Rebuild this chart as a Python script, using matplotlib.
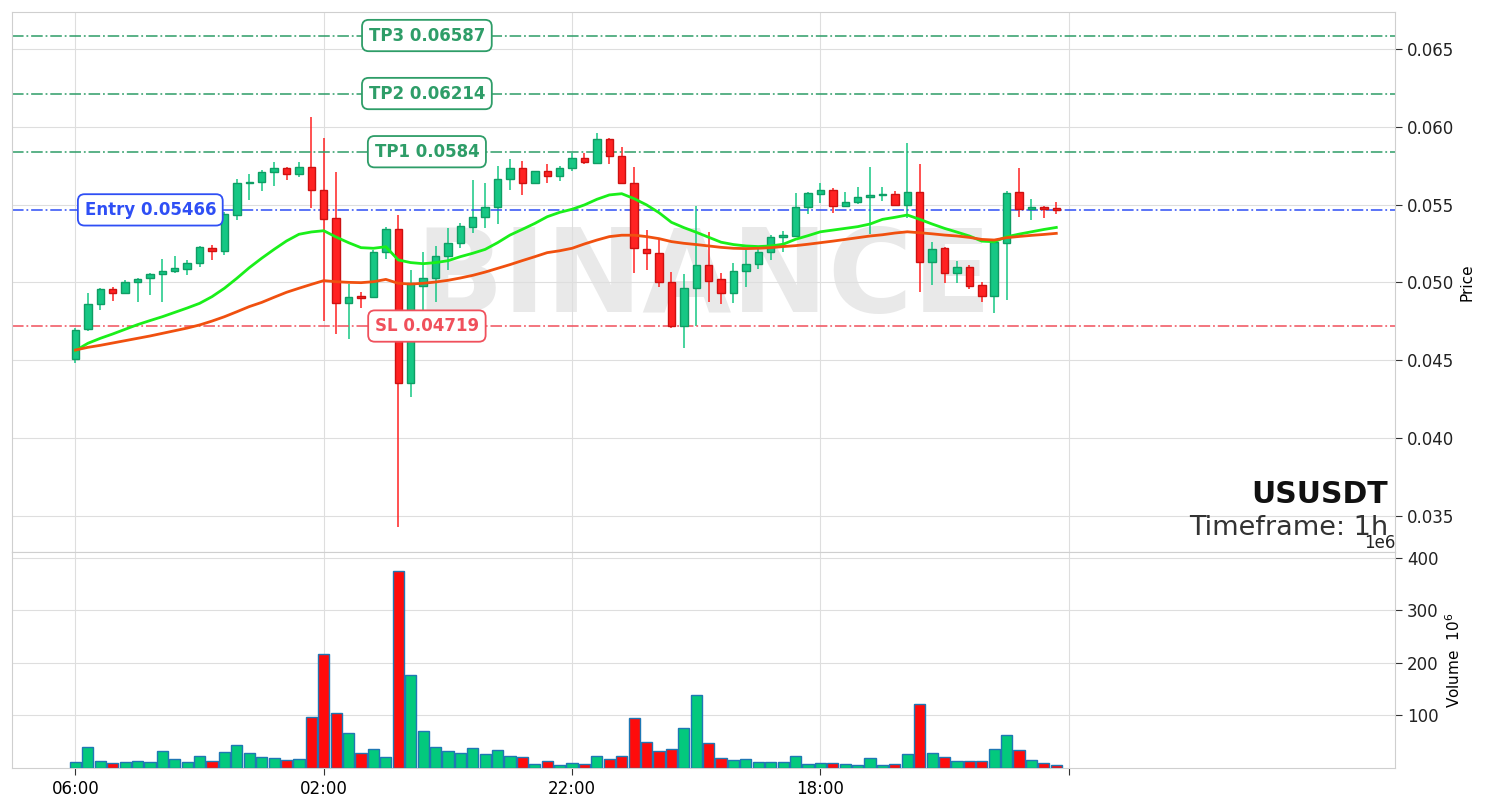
import numpy as np
import matplotlib.pyplot as plt
import matplotlib.transforms as mtransforms
from matplotlib.ticker import ScalarFormatter

# USUSDT 1h candles, 80 bars
opens = [0.04505, 0.04698, 0.04859, 0.04955, 0.04929, 0.05000, 0.05026, 0.05052, 0.05071, 0.05088,
         0.05122, 0.05221, 0.05199, 0.05431, 0.05637, 0.05643, 0.05707, 0.05733, 0.05694, 0.05739,
         0.05592, 0.05412, 0.04865, 0.04912, 0.04908, 0.05193, 0.05343, 0.04351, 0.04979, 0.05026,
         0.05172, 0.05251, 0.05358, 0.05418, 0.05487, 0.05662, 0.05733, 0.05637, 0.05714, 0.05684,
         0.05733, 0.05798, 0.05770, 0.05920, 0.05813, 0.05637, 0.05213, 0.05187, 0.05000, 0.04720,
         0.04962, 0.05112, 0.05020, 0.04934, 0.05075, 0.05116, 0.05193, 0.05294, 0.05300, 0.05483,
         0.05565, 0.05593, 0.05493, 0.05518, 0.05550, 0.05559, 0.05565, 0.05497, 0.05578, 0.05133,
         0.05218, 0.05062, 0.05100, 0.04982, 0.04914, 0.05255, 0.05580, 0.05471, 0.05482, 0.05475]
highs = [0.04704, 0.04929, 0.04961, 0.04972, 0.05015, 0.05026, 0.05058, 0.05150, 0.05171, 0.05144,
         0.05234, 0.05240, 0.05454, 0.05664, 0.05697, 0.05722, 0.05772, 0.05739, 0.05772, 0.06061,
         0.05926, 0.05712, 0.04989, 0.04940, 0.05208, 0.05354, 0.05431, 0.05079, 0.05197, 0.05236,
         0.05347, 0.05379, 0.05658, 0.05641, 0.05748, 0.05791, 0.05782, 0.05716, 0.05759, 0.05750,
         0.05834, 0.05834, 0.05958, 0.05926, 0.05868, 0.05744, 0.05337, 0.05277, 0.05069, 0.05054,
         0.05493, 0.05326, 0.05058, 0.05123, 0.05208, 0.05230, 0.05305, 0.05333, 0.05577, 0.05583,
         0.05636, 0.05604, 0.05583, 0.05610, 0.05743, 0.05615, 0.05587, 0.05898, 0.05758, 0.05261,
         0.05229, 0.05139, 0.05111, 0.05004, 0.05261, 0.05587, 0.05733, 0.05535, 0.05493, 0.05514]
lows = [0.04479, 0.04689, 0.04822, 0.04878, 0.04929, 0.04871, 0.04916, 0.04871, 0.05058, 0.05049,
        0.05099, 0.05144, 0.05176, 0.05401, 0.05529, 0.05587, 0.05622, 0.05658, 0.05679, 0.05476,
        0.04754, 0.04668, 0.04634, 0.04833, 0.04908, 0.05150, 0.03429, 0.04265, 0.04822, 0.04876,
        0.05079, 0.05219, 0.05315, 0.05347, 0.05375, 0.05594, 0.05562, 0.05632, 0.05641, 0.05652,
        0.05718, 0.05761, 0.05765, 0.05759, 0.05637, 0.05058, 0.05080, 0.04972, 0.04705, 0.04576,
        0.04720, 0.04876, 0.04861, 0.04870, 0.04972, 0.05084, 0.05144, 0.05197, 0.05298, 0.05438,
        0.05512, 0.05443, 0.05486, 0.05503, 0.05310, 0.05525, 0.05493, 0.05411, 0.04935, 0.04982,
        0.04993, 0.04993, 0.04955, 0.04875, 0.04805, 0.04886, 0.05422, 0.05400, 0.05411, 0.05437]
closes = [0.04694, 0.04859, 0.04955, 0.04929, 0.05000, 0.05019, 0.05052, 0.05071, 0.05090, 0.05122,
          0.05225, 0.05199, 0.05437, 0.05637, 0.05647, 0.05707, 0.05733, 0.05694, 0.05739, 0.05592,
          0.05405, 0.04865, 0.04908, 0.04902, 0.05193, 0.05343, 0.04351, 0.04994, 0.05026, 0.05172,
          0.05251, 0.05362, 0.05418, 0.05487, 0.05662, 0.05733, 0.05637, 0.05716, 0.05684, 0.05733,
          0.05798, 0.05772, 0.05920, 0.05813, 0.05637, 0.05219, 0.05187, 0.05005, 0.04720, 0.04962,
          0.05112, 0.05011, 0.04934, 0.05075, 0.05116, 0.05193, 0.05294, 0.05305, 0.05483, 0.05573,
          0.05593, 0.05493, 0.05514, 0.05546, 0.05561, 0.05568, 0.05497, 0.05578, 0.05133, 0.05212,
          0.05062, 0.05096, 0.04978, 0.04914, 0.05261, 0.05572, 0.05471, 0.05482, 0.05469, 0.05463]
# volume in millions
volume_m = [11.4, 40.0, 13.3, 8.9, 11.4, 13.3, 11.4, 32.4, 17.1, 11.4,
            22.9, 13.3, 30.5, 43.8, 28.6, 21.0, 19.0, 15.2, 17.1, 97.1,
            217.0, 104.8, 66.7, 28.6, 36.2, 21.0, 375.0, 177.0, 70.5, 40.0,
            32.4, 28.6, 38.0, 26.7, 34.3, 22.9, 21.0, 7.6, 13.3, 5.7,
            9.5, 7.6, 22.9, 17.1, 22.9, 95.2, 49.5, 32.4, 36.2, 76.2,
            139.0, 47.6, 19.0, 15.2, 17.1, 11.4, 11.4, 11.4, 22.9, 7.6,
            9.5, 9.5, 7.6, 5.7, 19.0, 5.7, 7.6, 27.3, 122.0, 28.6,
            21.0, 13.3, 13.3, 13.3, 36.2, 62.9, 34.3, 15.2, 9.5, 5.7]
ema_fast = [0.04561, 0.04608, 0.04640, 0.04668, 0.04698, 0.04728, 0.04754, 0.04779, 0.04807, 0.04835,
            0.04865, 0.04908, 0.04962, 0.05026, 0.05094, 0.05155, 0.05212, 0.05266, 0.05309, 0.05324,
            0.05332, 0.05291, 0.05255, 0.05223, 0.05219, 0.05229, 0.05144, 0.05127, 0.05120, 0.05127,
            0.05139, 0.05165, 0.05187, 0.05212, 0.05255, 0.05304, 0.05341, 0.05379, 0.05422, 0.05450,
            0.05470, 0.05498, 0.05534, 0.05562, 0.05570, 0.05538, 0.05498, 0.05448, 0.05386, 0.05352,
            0.05322, 0.05290, 0.05258, 0.05243, 0.05234, 0.05230, 0.05234, 0.05245, 0.05277, 0.05300,
            0.05325, 0.05336, 0.05347, 0.05358, 0.05375, 0.05405, 0.05418, 0.05433, 0.05405, 0.05375,
            0.05347, 0.05323, 0.05298, 0.05265, 0.05261, 0.05293, 0.05310, 0.05325, 0.05340, 0.05353]
ema_slow = [0.04565, 0.04582, 0.04595, 0.04610, 0.04625, 0.04640, 0.04655, 0.04672, 0.04689, 0.04706,
            0.04726, 0.04751, 0.04779, 0.04811, 0.04844, 0.04871, 0.04904, 0.04936, 0.04962, 0.04987,
            0.05011, 0.05004, 0.05000, 0.04998, 0.05004, 0.05019, 0.04994, 0.04989, 0.04994, 0.05002,
            0.05013, 0.05028, 0.05045, 0.05066, 0.05090, 0.05114, 0.05140, 0.05165, 0.05191, 0.05203,
            0.05219, 0.05247, 0.05272, 0.05294, 0.05303, 0.05303, 0.05294, 0.05281, 0.05262, 0.05251,
            0.05243, 0.05234, 0.05225, 0.05219, 0.05217, 0.05219, 0.05223, 0.05230, 0.05236, 0.05245,
            0.05255, 0.05265, 0.05276, 0.05287, 0.05298, 0.05306, 0.05317, 0.05325, 0.05319, 0.05312,
            0.05304, 0.05298, 0.05289, 0.05276, 0.05272, 0.05287, 0.05295, 0.05302, 0.05308, 0.05315]

tick_idx = [0, 20, 40, 60, 80]
tick_labels = ['06:00', '02:00', '22:00', '18:00', '']

level_names = ['TP3', 'TP2', 'TP1', 'Entry', 'SL']
level_values = [0.06587, 0.06214, 0.0584, 0.05466, 0.04719]
level_text = ['TP3 0.06587', 'TP2 0.06214', 'TP1 0.0584', 'Entry 0.05466', 'SL 0.04719']

symbol = 'USUSDT'
timeframe = '1h'

# colours
UP, UP_EDGE = '#16c784', '#0f9d64'
DOWN, DOWN_EDGE = '#ff2222', '#cc1111'
VOL_UP, VOL_DOWN = '#03c97d', '#ff0b0b'
level_colors = {'TP3': '#2e9d68', 'TP2': '#2e9d68', 'TP1': '#2e9d68',
                'Entry': '#2f4ff5', 'SL': '#f0505c'}
level_xpos = {'TP3': 0.3, 'TP2': 0.3, 'TP1': 0.3, 'Entry': 0.1, 'SL': 0.3}

o = np.array(opens)
h = np.array(highs)
l = np.array(lows)
c = np.array(closes)
v = np.array(volume_m) * 1e6
x = np.arange(len(o))
up = c >= o

fig = plt.figure(figsize=(14.9, 8.08), dpi=100)
ax = fig.add_axes([0.00805, 0.3168, 0.9282, 0.6683])
axv = fig.add_axes([0.00805, 0.0495, 0.9282, 0.2673], sharex=ax)

for a in (ax, axv):
    a.set_facecolor('white')
    a.grid(True, color='#dedede', lw=0.8)
    a.set_axisbelow(True)
    for s in a.spines.values():
        s.set_color('#cfcfcf')
    a.yaxis.tick_right()
    a.yaxis.set_label_position('right')
    a.tick_params(axis='y', labelsize=12, length=5, color='#333333', labelcolor='#222222')

# watermark
ax.text(0.5, 0.444, 'BINANCE', transform=ax.transAxes, ha='center', va='baseline',
        fontsize=83, fontweight='bold', color='#e9e9e9', zorder=0.5)

# candles
wick_col = np.where(up, UP, DOWN)
ax.vlines(x, l, h, colors=wick_col, lw=1.1, zorder=2)
body_bot = np.minimum(o, c)
body_h = np.maximum(np.abs(c - o), 0.00003)
ax.bar(x, body_h, bottom=body_bot, width=0.6,
       color=np.where(up, UP, DOWN), edgecolor=np.where(up, UP_EDGE, DOWN_EDGE),
       linewidth=1.0, zorder=3)

# moving averages
ax.plot(x, ema_fast, color='#1aef1a', lw=2.0, zorder=4)
ax.plot(x, ema_slow, color='#f0500f', lw=2.0, zorder=4)

# trade levels
trans = mtransforms.blended_transform_factory(ax.transAxes, ax.transData)
for name, val, txt in zip(level_names, level_values, level_text):
    col = level_colors[name]
    ax.axhline(val, color=col, ls='-.', lw=1.3, alpha=0.85, zorder=2.5)
    ax.text(level_xpos[name], val, txt, transform=trans, ha='center', va='center',
            fontsize=12, fontweight='bold', color=col, zorder=6,
            bbox=dict(boxstyle='round,pad=0.4', fc='white', ec=col, lw=1.3))

ax.text(0.995, 0.09, symbol, transform=ax.transAxes, ha='right', va='baseline',
        fontsize=21.5, fontweight='bold', color='#111111', zorder=6)
ax.text(0.995, 0.031, 'Timeframe: ' + timeframe, transform=ax.transAxes, ha='right',
        va='baseline', fontsize=19.5, color='#333333', zorder=6)

ax.set_ylim(0.03266, 0.06738)
ax.set_yticks([0.035, 0.040, 0.045, 0.050, 0.055, 0.060, 0.065])
ax.set_ylabel('Price', fontsize=11)
ax.tick_params(axis='x', bottom=False, labelbottom=False)

# volume
axv.bar(x, v, width=0.9, color=np.where(up, VOL_UP, VOL_DOWN),
        edgecolor='#1f77b4', linewidth=1.0, zorder=3)
axv.set_ylim(0, 411e6)
axv.set_yticks([100e6, 200e6, 300e6, 400e6])
fmt = ScalarFormatter(useMathText=False)
fmt.set_powerlimits((6, 6))
axv.yaxis.set_major_formatter(fmt)
axv.yaxis.get_offset_text().set_fontsize(12)
axv.set_ylabel('Volume  $10^{6}$', fontsize=11)

axv.set_xticks(tick_idx)
axv.set_xticklabels(tick_labels)
axv.tick_params(axis='x', labelsize=12, length=5, color='#333333')
axv.set_xlim(-5.11, 106.28)

fig.savefig('out.png', dpi=100)
